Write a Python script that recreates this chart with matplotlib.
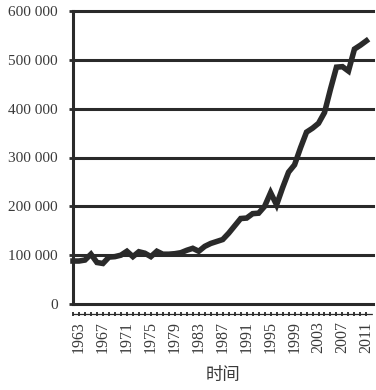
import numpy as np
import matplotlib.pyplot as plt

years = np.arange(1962, 2012)
values = [88000, 88000, 90000, 102000, 85000, 83000, 96000, 97000, 100000, 108000,
          97000, 107000, 104000, 97000, 108000, 102000, 102000, 103000, 105000, 110000,
          114000, 108000, 118000, 124000, 128000, 132000, 145000, 160000, 175000, 176000,
          185000, 186000, 200000, 228000, 203000, 238000, 270000, 285000, 320000, 352000,
          360000, 370000, 392000, 440000, 485000, 486000, 477000, 522000, 530000, 539000]
xtick_years = list(range(1963, 2012, 4))
yticks = [0, 100000, 200000, 300000, 400000, 500000, 600000]
ytick_labels = ['0', '100 000', '200 000', '300 000', '400 000', '500 000', '600 000']
xlabel = '时间'

dark = '#2a2a2a'
txt = '#3a3a3a'

fig = plt.figure(figsize=(3.76, 3.90), dpi=100)
ax = fig.add_axes([73/376, 86/390, 300/376, 293/390])

for v in yticks:
    ax.axhline(v, color=dark, lw=2.2, zorder=1, clip_on=False)

ax.plot(years, values, color=dark, lw=4.0, solid_joinstyle='miter', zorder=3, clip_on=False)

ax.set_xlim(1962, 2012.1)
ax.set_ylim(0, 600000)

ax.spines['top'].set_visible(False)
ax.spines['right'].set_visible(False)
ax.spines['left'].set_linewidth(2.2)
ax.spines['left'].set_color(dark)
ax.spines['bottom'].set_position(('outward', 7))
ax.spines['bottom'].set_linewidth(0.9)
ax.spines['bottom'].set_linestyle((0, (2, 1)))
ax.spines['bottom'].set_color(dark)

ax.set_yticks(yticks)
ax.set_yticklabels(ytick_labels, family=['Liberation Serif', 'DejaVu Serif'], fontsize=11, color=txt)
ax.tick_params(axis='y', length=3, width=2, color=dark, pad=8)

ax.set_xticks(xtick_years)
ax.set_xticklabels([str(y) for y in xtick_years], rotation=90,
                   family=['Liberation Serif', 'DejaVu Serif'], fontsize=11.5, color=txt)
ax.set_xticks(years, minor=True)
ax.tick_params(axis='x', which='both', direction='inout', length=3, width=1.3, color=dark, pad=4)

ax.set_xlabel(xlabel, family=['Noto Sans CJK SC', 'DejaVu Sans'], fontsize=12.5, color=txt, labelpad=9)

fig.savefig('out.png', dpi=100)
